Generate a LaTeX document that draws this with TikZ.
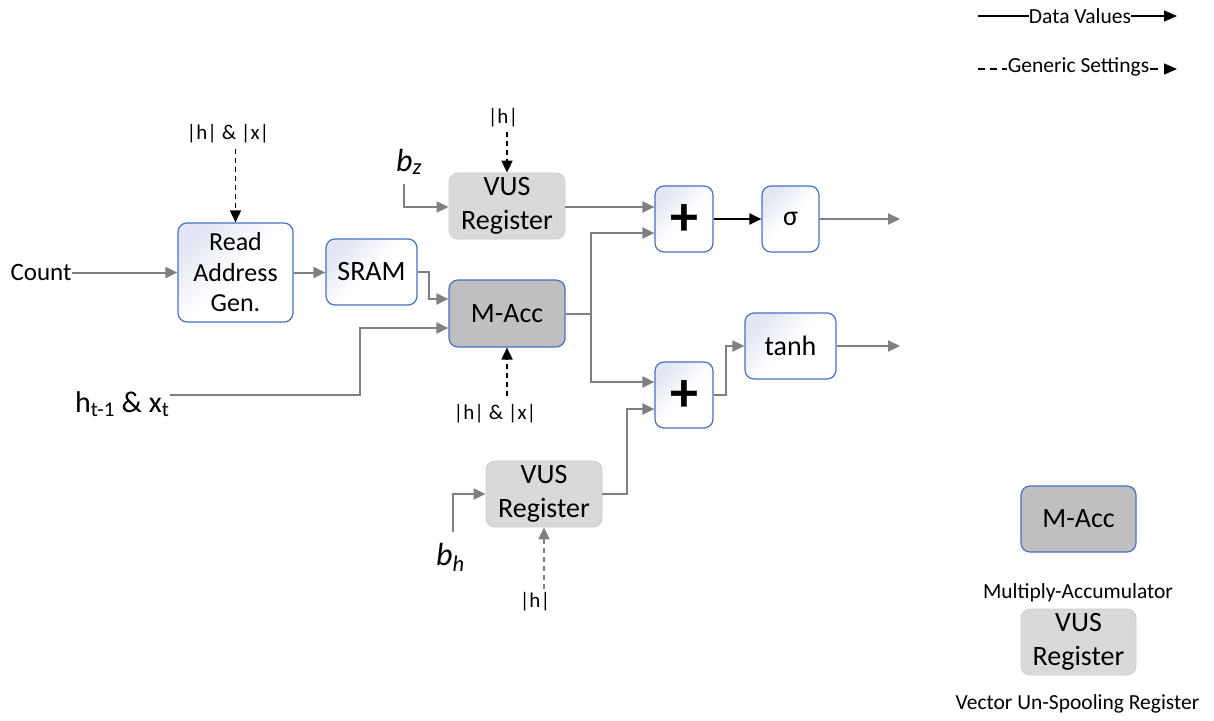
\documentclass[tikz,border=0pt]{standalone}
\usepackage{fontspec}
\setmainfont{Carlito}
\usetikzlibrary{arrows.meta,calc}

\definecolor{boxblue}{HTML}{4472C4}
\definecolor{tint}{HTML}{E3E6F4}
\definecolor{wire}{HTML}{808080}
\definecolor{maccfill}{HTML}{BFBFBF}
\definecolor{vusfill}{HTML}{D9D9D9}
\definecolor{vusedge}{HTML}{CDCDCD}

\newcommand\setpx[2]{\fontsize{#1}{#2}\selectfont}

\tikzset{
  unit/.style={draw=boxblue, line width=1.2pt, rounded corners=9pt,
    top color=tint, bottom color=white, middle color=white, shading angle=45,
    align=center, inner sep=0pt, font=\setpx{28}{34}},
  maccbox/.style={draw=boxblue, line width=1.2pt, rounded corners=9pt,
    fill=maccfill, align=center, inner sep=0pt, font=\setpx{28}{34}},
  vusbox/.style={draw=vusedge, line width=0.8pt, rounded corners=9pt,
    fill=vusfill, align=center, inner sep=0pt, font=\setpx{28}{34}},
  wide/.style={minimum width=116pt, minimum height=66pt},
  narrow/.style={minimum width=58pt, minimum height=66pt},
  plusmark/.style={font=\setpx{56}{56}\bfseries},
  wirearrow/.style={draw=wire, line width=2pt, -{Triangle[length=12pt,width=11pt]}},
  blackarrow/.style={draw=black, line width=2pt, -{Triangle[length=12pt,width=11pt]}},
  ctrl/.style={draw=black, line width=1.8pt, dash pattern=on 5pt off 4pt,
    -{Triangle[length=12pt,width=11pt]}},
  ctrlgray/.style={ctrl, draw=wire},
  setting/.style={font=\setpx{21}{24}, inner sep=0pt, anchor=base},
  legendtext/.style={font=\setpx{21.5}{26}, inner sep=0pt, anchor=base},
  signal/.style={inner sep=0pt, anchor=base west},
}

\begin{document}
\begin{tikzpicture}[x=1pt, y=-1pt]
\useasboundingbox (0,0) rectangle (1214,720);

% ---- functional blocks
\node[unit, minimum width=115pt, minimum height=99pt, font=\setpx{26}{30.5}]
  (read) at (235.5,272.5) {Read\\Address\\Gen.};
\node[unit, minimum width=91pt, minimum height=66pt] (sram) at (371.5,272) {SRAM};
\node[vusbox, wide] (vusz) at (507,206) {VUS\\Register};
\node[maccbox, wide, minimum height=67pt] (macc) at (507,313.5) {M-Acc};
\node[vusbox, wide] (vush) at (544,494) {VUS\\Register};
\node[unit, narrow] (plusz) at (684,219) {};
\node[plusmark] at ([yshift=-1pt]plusz.center) {+};
\node[unit, narrow] (plush) at (684,395) {};
\node[plusmark] at ([yshift=-1pt]plush.center) {+};
\node[unit, minimum width=57pt, minimum height=66pt] (sig) at (790.5,219) {σ};
\node[unit, minimum width=91pt, minimum height=66pt] (tanh) at (790.5,346) {tanh};

% ---- inputs
\node[signal, font=\setpx{25}{30}, anchor=base] (count) at (41,280) {Count};
\node[signal, font=\setpx{30}{36}] (hx) at (75,412)
  {h\textsubscript{t-1} \& x\textsubscript{t}};
\node[signal, font=\setpx{32}{38}\itshape] (bz) at (396,171) {b\textsubscript{z}};
\node[signal, font=\setpx{32}{38}\itshape] (bh) at (436,565) {b\textsubscript{h}};

% ---- generic settings
\node[setting] (setread) at (228,139) {|h| \& |x|};
\node[setting] (sethz) at (503,123) {|h|};
\node[setting] (setmacc) at (495,419) {|h| \& |x|};
\node[setting] (sethh) at (535,607) {|h|};

% ---- turning points and open ends
\coordinate (hxbend) at (360,395);
\coordinate (bzfoot) at (404,184);
\coordinate (bhfoot) at (453,532);
\coordinate (zout) at (900,219);
\coordinate (hout) at (900,346);

% ---- data paths
\draw[wirearrow] (count.east |- read.west) -- (read.west);
\draw[wirearrow] (read.east) -- (sram.west |- read.east);
\draw[wirearrow] (sram.east) -- ++(11,0) |- ([yshift=14.5pt]macc.west);
\draw[wirearrow] (hx.east |- hxbend) -- (hxbend) |- ([yshift=-14.5pt]macc.west);
\draw[wirearrow] (bzfoot) |- ([yshift=-1pt]vusz.west);
\draw[wirearrow] ([yshift=-1pt]vusz.east) -- ([yshift=12pt]plusz.west);
\draw[wirearrow] (macc.east) -- ++(25,0) coordinate (split)
  |- ([yshift=-14pt]plusz.west);
\draw[wirearrow] (split) |- ([yshift=13pt]plush.west);
\draw[wirearrow] (bhfoot) |- (vush.west);
\draw[wirearrow] (vush.east) -- ++(25,0) |- ([yshift=-14pt]plush.west);
\draw[blackarrow] (plusz.east) -- (sig.west);
\draw[wirearrow] (plush.east) -- ++(12,0) |- (tanh.west);
\draw[wirearrow] (sig.east) -- (zout);
\draw[wirearrow] (tanh.east) -- (hout);

% ---- setting paths
\draw[ctrl] ([yshift=-6pt]setread.south -| read.north) -- (read.north);
\draw[ctrl] ([yshift=-5pt]sethz.south -| vusz.north) -- (vusz.north);
\draw[ctrl] ([yshift=8pt]setmacc.north -| macc.south) -- (macc.south);
\draw[ctrlgray] ([yshift=3pt]sethh.north -| vush.south) -- (vush.south);

% ---- legend
\node[legendtext] (dv) at (1080,23) {Data Values};
\coordinate (dvstart) at (978,16);
\coordinate (dvend) at (1177,16);
\draw[black, line width=1.4pt] (dvstart) -- (dv.west |- dvstart);
\draw[black, line width=1.4pt, -{Triangle[length=13pt,width=11pt]}]
  (dv.east |- dvstart) -- (dvend);

\node[legendtext] (gs) at (1078.5,72) {Generic Settings};
\coordinate (gsstart) at (978,69);
\coordinate (gsend) at (1177,69);
\draw[black, line width=1.4pt, dash pattern=on 7pt off 5pt]
  (gsstart) -- ([xshift=-1pt]gs.west |- gsstart);
\draw[black, line width=1.4pt, dash pattern=on 8pt off 6pt,
  -{Triangle[length=13pt,width=11pt]}]
  ([xshift=1pt]gs.east |- gsstart) -- (gsend);

\node[maccbox, minimum width=115pt, minimum height=66pt] (lmacc) at (1078.5,519) {M-Acc};
\node[legendtext] (lmacctext) at (1078,598) {Multiply-Accumulator};
\node[vusbox, minimum width=115pt, minimum height=66pt] (lvus) at (1078.5,642) {VUS\\Register};
\node[legendtext] (lvustext) at (1077.5,709) {Vector Un-Spooling Register};
\end{tikzpicture}
\end{document}
